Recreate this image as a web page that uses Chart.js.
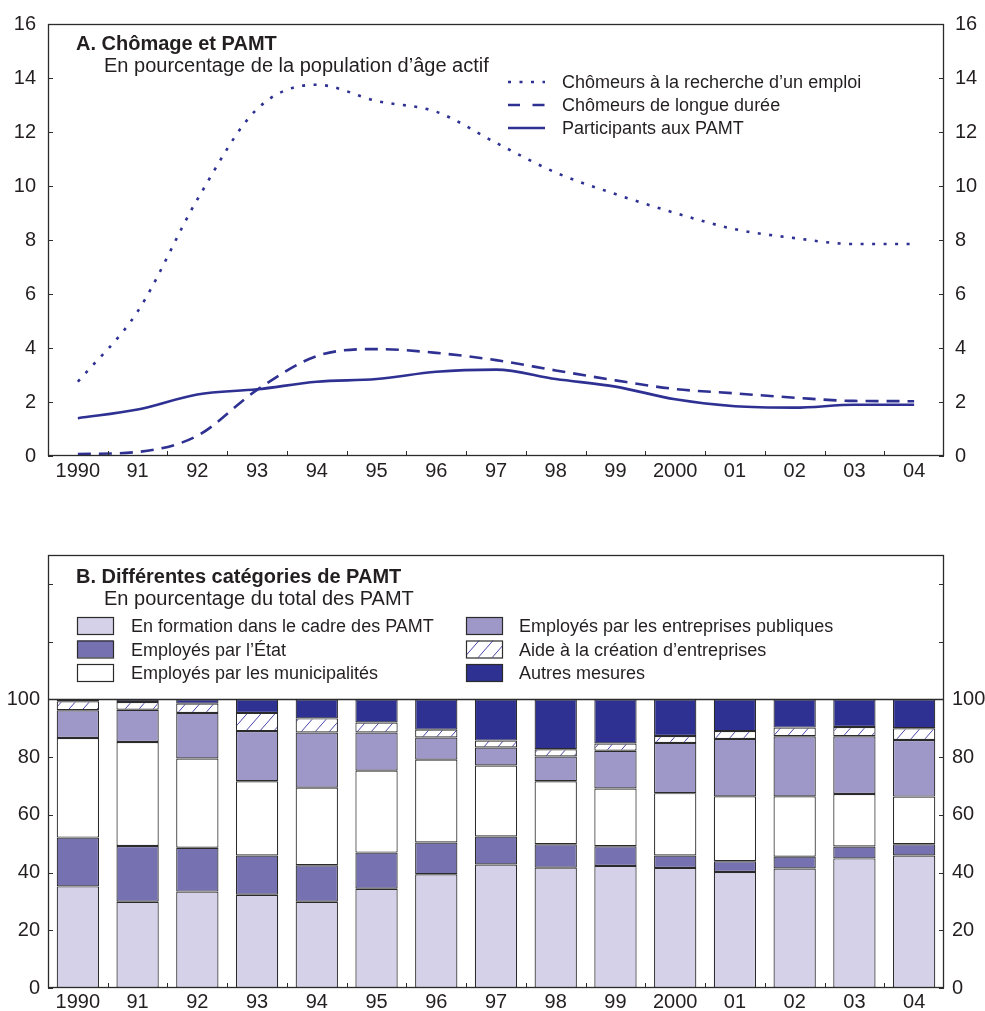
<!DOCTYPE html>
<html>
<head>
<meta charset="utf-8">
<script src="https://cdn.jsdelivr.net/npm/chart.js@4.4.1/dist/chart.umd.min.js"></script>
<style>
  html, body { margin: 0; padding: 0; background: #fff; }
  #wrap { position: relative; width: 985px; height: 1011px; overflow: hidden; }
  canvas { position: absolute; left: 0; }
  #chartA { top: 0; }
  #chartB { top: 500px; }
</style>
</head>
<body>
<div id="wrap">
  <canvas id="chartA" width="985" height="490"></canvas>
  <canvas id="chartB" width="985" height="511"></canvas>
</div>
<script>
// Years shown on both panels
const years = ['1990', '91', '92', '93', '94', '95', '96', '97', '98', '99', '2000', '01', '02', '03', '04'];

// Panel A: % of working-age population
const chomeursRecherche = [2.75, 5.35, 9.5, 12.85, 13.75, 13.15, 12.75, 11.6, 10.5, 9.7, 9.0, 8.4, 8.07, 7.85, 7.85];
const chomeursLongue = [0.07, 0.15, 0.75, 2.45, 3.7, 3.96, 3.82, 3.55, 3.17, 2.8, 2.48, 2.32, 2.16, 2.04, 2.03];
const participantsPamt = [1.4, 1.72, 2.28, 2.47, 2.75, 2.85, 3.12, 3.2, 2.85, 2.57, 2.1, 1.84, 1.79, 1.9, 1.9];
const ticksA = [0, 2, 4, 6, 8, 10, 12, 14, 16];

// Panel B: % of all PAMT participants
const enFormation = [35.2, 29.9, 33.4, 32.3, 29.9, 34.4, 39.4, 42.8, 41.7, 42.3, 41.6, 40.2, 41.4, 44.9, 45.9];
const employesEtat = [16.9, 19.3, 15.2, 13.6, 12.6, 12.5, 11.0, 9.7, 8.1, 6.8, 4.3, 3.7, 4.1, 4.1, 3.9];
const employesMunicipalites = [34.5, 36.0, 30.9, 25.7, 26.9, 28.4, 28.7, 24.6, 21.8, 20.0, 21.6, 22.5, 20.9, 18.2, 16.5];
const employesEntreprisesPubliques = [9.6, 11.2, 15.8, 17.4, 19.1, 13.2, 7.7, 6.2, 8.6, 13.1, 17.4, 19.9, 20.8, 20.0, 19.6];
const aideCreation = [3.1, 2.7, 3.2, 6.3, 4.9, 3.5, 2.7, 2.4, 2.5, 2.5, 2.4, 2.7, 3.0, 3.2, 4.1];
const autresMesures = [0.7, 0.9, 1.5, 4.7, 6.6, 8.0, 10.5, 14.3, 17.3, 15.3, 12.7, 11.0, 9.8, 9.6, 10.0];
const ticksB = [0, 20, 40, 60, 80, 100, 120, 140];

const FONT = "'Liberation Sans', Arial, Helvetica, sans-serif";
const INK = '#231f20';
const NAVY = '#2e3192';
const EDGE = '#2b2b2b';

// Sparse diagonal hatch used for the "Aide à la création d'entreprises" segments
function makeHatch(ctx) {
  const w = 14, h = 16;
  const c = document.createElement('canvas');
  c.width = w; c.height = h;
  const g = c.getContext('2d');
  g.fillStyle = '#ffffff';
  g.fillRect(0, 0, w, h);
  g.strokeStyle = '#4a46aa';
  g.lineWidth = 1;
  g.beginPath();
  for (const dx of [-w, 0, w]) {
    g.moveTo(dx - w * 0.2, h * 1.2);
    g.lineTo(dx + w * 1.2, -h * 0.2);
  }
  g.stroke();
  return ctx.createPattern(c, 'repeat');
}

// Plot frame, inward tick marks, titles and in-plot legend
function framePlugin(cfg) {
  return {
    id: 'frame_' + cfg.name,
    afterDatasetsDraw(chart) {
      const ctx = chart.ctx;
      const a = chart.chartArea;
      const x = chart.scales.x;
      const y = chart.scales.y;
      ctx.save();
      ctx.strokeStyle = EDGE;
      ctx.lineWidth = 1.3;
      if (cfg.refLine !== undefined) {
        const ry = Math.round(y.getPixelForValue(cfg.refLine)) + 0.5;
        ctx.beginPath();
        ctx.moveTo(a.left, ry);
        ctx.lineTo(a.right, ry);
        ctx.stroke();
      }
      ctx.strokeRect(a.left + 0.5, a.top + 0.5, a.right - a.left - 1, a.bottom - a.top - 1);
      ctx.lineWidth = 1;
      ctx.beginPath();
      for (const v of cfg.tickValues) {
        const ty = Math.round(y.getPixelForValue(v)) + 0.5;
        ctx.moveTo(a.left, ty); ctx.lineTo(a.left + 5, ty);
        ctx.moveTo(a.right, ty); ctx.lineTo(a.right - 5, ty);
      }
      for (let i = 1; i < years.length; i++) {
        const tx = Math.round((x.getPixelForValue(i - 1) + x.getPixelForValue(i)) / 2) + 0.5;
        ctx.moveTo(tx, a.bottom); ctx.lineTo(tx, a.bottom - 5);
      }
      ctx.stroke();

      ctx.fillStyle = INK;
      ctx.textAlign = 'left';
      ctx.textBaseline = 'alphabetic';
      ctx.font = 'bold 20px ' + FONT;
      ctx.fillText(cfg.title, cfg.titleX, cfg.titleY);
      ctx.font = '20px ' + FONT;
      ctx.fillText(cfg.subtitle, cfg.subX, cfg.subY);
      cfg.legend(chart, ctx);
      ctx.restore();
    }
  };
}

const noGrid = { display: false, drawTicks: false };
const tickFont = { family: FONT, size: 20 };

// ---- Panel A ----
const ctxA = document.getElementById('chartA').getContext('2d');
const lineBase = { borderColor: NAVY, borderWidth: 2.6, pointRadius: 0, fill: false, cubicInterpolationMode: 'monotone', borderCapStyle: 'butt' };

new Chart(ctxA, {
  type: 'line',
  data: {
    labels: years,
    datasets: [
      Object.assign({ label: 'Chômeurs à la recherche d’un emploi', data: chomeursRecherche, borderDash: [3, 8.5] }, lineBase),
      Object.assign({ label: 'Chômeurs de longue durée', data: chomeursLongue, borderDash: [13, 8] }, lineBase),
      Object.assign({ label: 'Participants aux PAMT', data: participantsPamt, borderDash: [] }, lineBase)
    ]
  },
  options: {
    responsive: false,
    devicePixelRatio: 1,
    animation: false,
    layout: { padding: { top: 23, left: 0, right: 0, bottom: 0 } },
    plugins: { legend: { display: false }, tooltip: { enabled: false } },
    scales: {
      x: {
        offset: true,
        grid: noGrid,
        border: { display: false },
        ticks: { color: INK, font: tickFont, padding: 3, autoSkip: false, maxRotation: 0 },
        afterFit(s) { s.height = 34; }
      },
      y: {
        position: 'left', min: 0, max: 16,
        grid: noGrid,
        border: { display: false },
        ticks: { stepSize: 2, color: INK, font: tickFont, padding: 12 },
        afterFit(s) { s.width = 48; }
      },
      y2: {
        position: 'right', min: 0, max: 16,
        grid: noGrid,
        border: { display: false },
        ticks: { stepSize: 2, color: INK, font: tickFont, padding: 11 },
        afterFit(s) { s.width = 41; }
      }
    }
  },
  plugins: [framePlugin({
    name: 'A',
    tickValues: ticksA,
    title: 'A. Chômage et PAMT', titleX: 76, titleY: 50,
    subtitle: 'En pourcentage de la population d’âge actif', subX: 104, subY: 72,
    legend(chart, ctx) {
      const rows = [82, 105, 128];
      ctx.font = '18px ' + FONT;
      chart.data.datasets.forEach((ds, i) => {
        ctx.save();
        ctx.strokeStyle = ds.borderColor;
        ctx.lineWidth = ds.borderWidth;
        ctx.setLineDash(i === 1 ? [12, 12.5] : ds.borderDash);
        ctx.beginPath();
        ctx.moveTo(508, rows[i]);
        ctx.lineTo(545, rows[i]);
        ctx.stroke();
        ctx.restore();
        ctx.fillText(ds.label, 562, rows[i] + 6);
      });
    }
  })]
});

// ---- Panel B ----
const ctxB = document.getElementById('chartB').getContext('2d');
const hatch = makeHatch(ctxB);
const barBase = { borderColor: EDGE, borderWidth: 1.2, borderSkipped: false, barPercentage: 0.708, categoryPercentage: 1 };

new Chart(ctxB, {
  type: 'bar',
  data: {
    labels: years,
    datasets: [
      Object.assign({ label: 'En formation dans le cadre des PAMT', data: enFormation, backgroundColor: '#d4d1e8' }, barBase),
      Object.assign({ label: 'Employés par l’État', data: employesEtat, backgroundColor: '#7671b0' }, barBase),
      Object.assign({ label: 'Employés par les municipalités', data: employesMunicipalites, backgroundColor: '#ffffff' }, barBase),
      Object.assign({ label: 'Employés par les entreprises publiques', data: employesEntreprisesPubliques, backgroundColor: '#9e98c8' }, barBase),
      Object.assign({ label: 'Aide à la création d’entreprises', data: aideCreation, backgroundColor: hatch }, barBase),
      Object.assign({ label: 'Autres mesures', data: autresMesures, backgroundColor: NAVY }, barBase)
    ]
  },
  options: {
    responsive: false,
    devicePixelRatio: 1,
    animation: false,
    layout: { padding: { top: 55, left: 0, right: 0, bottom: 0 } },
    plugins: { legend: { display: false }, tooltip: { enabled: false } },
    scales: {
      x: {
        stacked: true,
        offset: true,
        grid: noGrid,
        border: { display: false },
        ticks: { color: INK, font: tickFont, padding: 2, autoSkip: false, maxRotation: 0 },
        afterFit(s) { s.height = 23; }
      },
      y: {
        stacked: true,
        position: 'left', min: 0, max: 150,
        grid: noGrid,
        border: { display: false },
        ticks: { stepSize: 20, color: INK, font: tickFont, padding: 8,
                 callback: v => (v <= 100 ? v : '') },
        afterFit(s) { s.width = 48; }
      },
      y2: {
        position: 'right', min: 0, max: 150,
        grid: noGrid,
        border: { display: false },
        ticks: { stepSize: 20, color: INK, font: tickFont, padding: 8,
                 callback: v => (v <= 100 ? v : '') },
        afterFit(s) { s.width = 41; }
      }
    }
  },
  plugins: [framePlugin({
    name: 'B',
    tickValues: ticksB,
    refLine: 100,
    title: 'B. Différentes catégories de PAMT', titleX: 76, titleY: 83,
    subtitle: 'En pourcentage du total des PAMT', subX: 104, subY: 105,
    legend(chart, ctx) {
      const rowsY = [117, 140.5, 164];
      const cols = [{ box: 77, text: 131 }, { box: 466, text: 519 }];
      ctx.font = '18px ' + FONT;
      chart.data.datasets.forEach((ds, i) => {
        const col = cols[Math.floor(i / 3)];
        const top = rowsY[i % 3];
        ctx.fillStyle = ds.backgroundColor;
        ctx.fillRect(col.box, top, 36, 17);
        ctx.strokeStyle = EDGE;
        ctx.lineWidth = 1.2;
        ctx.strokeRect(col.box + 0.5, top + 0.5, 36, 17);
        ctx.fillStyle = INK;
        ctx.fillText(ds.label, col.text, top + 15);
      });
    }
  })]
});
</script>
</body>
</html>
